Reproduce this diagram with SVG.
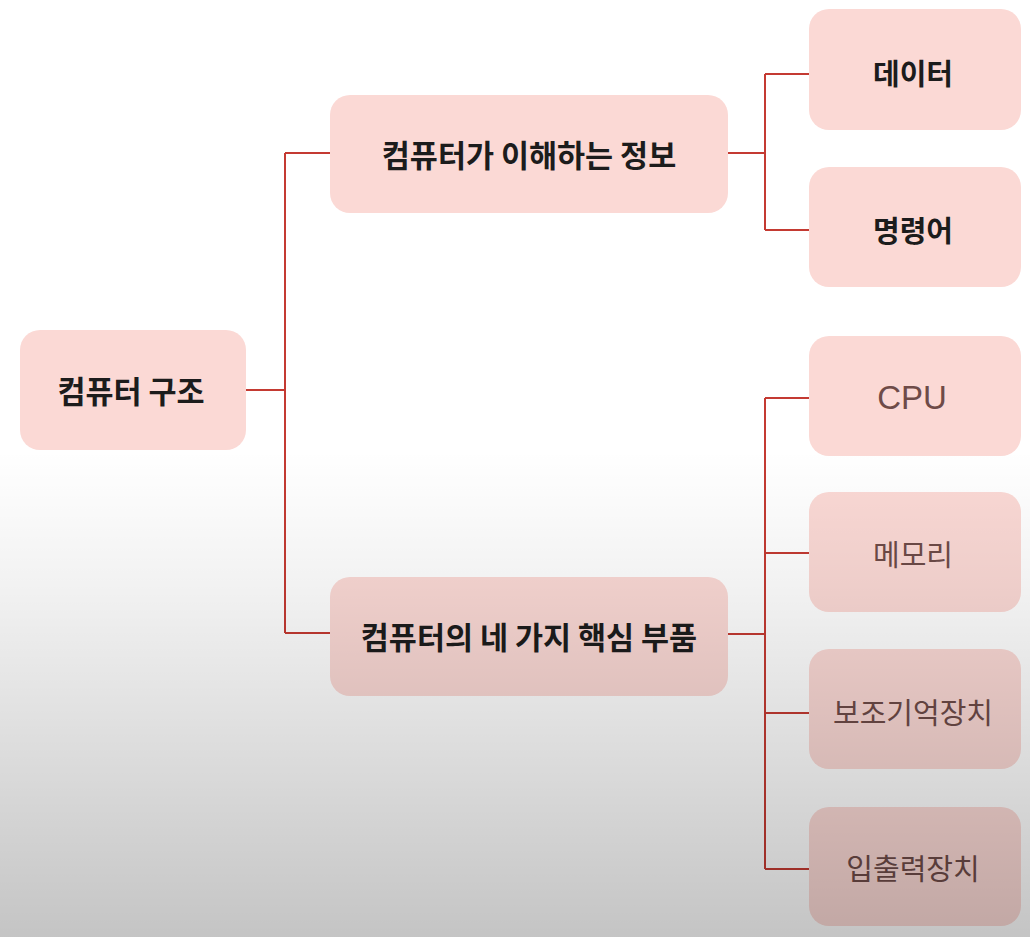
<svg xmlns="http://www.w3.org/2000/svg" width="1030" height="937" viewBox="0 0 1030 937">
  <defs>
    <linearGradient id="shade" x1="0" y1="0" x2="0" y2="937" gradientUnits="userSpaceOnUse">
      <stop offset="0" stop-color="#000" stop-opacity="0"/>
      <stop offset="0.48" stop-color="#000" stop-opacity="0"/>
      <stop offset="0.62" stop-color="#000" stop-opacity="0.05"/>
      <stop offset="1" stop-color="#000" stop-opacity="0.23"/>
    </linearGradient>
    <style>
      .box { fill: #fbd9d5; }
      .t { font-family: "Noto Sans CJK KR", "Noto Sans", sans-serif; text-anchor: middle; dominant-baseline: central; }
      .b { font-weight: 700; fill: #1c1c1c; font-size: 29px; }
      .big { font-size: 30.5px; }
      .n { font-weight: 400; fill: #6e4b48; font-size: 29px; }
      .lat { font-family: "Liberation Sans", "Noto Sans", sans-serif; font-size: 33px; }
      .c { fill: none; stroke: #c43a32; stroke-width: 2; }
    </style>
  </defs>
  <rect x="0" y="0" width="1030" height="937" fill="#ffffff"/>
  <g id="connectors">
    <path class="c" d="M246 390 H285 M285 153 V633 M285 153 H330 M285 633 H330"/>
    <path class="c" d="M728 153 H765 M765 74 V230 M765 74 H809 M765 230 H809"/>
    <path class="c" d="M728 634 H765 M765 398 V869 M765 398 H809 M765 553 H809 M765 713 H809 M765 869 H809"/>
  </g>
  <g id="node-root">
    <rect class="box" x="20" y="330" width="226" height="120" rx="20"/>
    <text class="t b big" x="131" y="390">컴퓨터 구조</text>
  </g>
  <g id="node-info">
    <rect class="box" x="330" y="95" width="398" height="118" rx="20"/>
    <text class="t b big" x="529" y="154">컴퓨터가 이해하는 정보</text>
  </g>
  <g id="node-parts">
    <rect class="box" x="330" y="577" width="398" height="119" rx="20"/>
    <text class="t b big" x="529" y="636">컴퓨터의 네 가지 핵심 부품</text>
  </g>
  <g id="node-data">
    <rect class="box" x="809" y="9" width="212" height="121" rx="20"/>
    <text class="t b" x="913" y="72">데이터</text>
  </g>
  <g id="node-instr">
    <rect class="box" x="809" y="167" width="212" height="120" rx="20"/>
    <text class="t b" x="913" y="229">명령어</text>
  </g>
  <g id="node-cpu">
    <rect class="box" x="809" y="336" width="212" height="120" rx="20"/>
    <text class="t n lat" x="912" y="397">CPU</text>
  </g>
  <g id="node-mem">
    <rect class="box" x="809" y="492" width="212" height="120" rx="20"/>
    <text class="t n" x="913" y="553">메모리</text>
  </g>
  <g id="node-storage">
    <rect class="box" x="809" y="649" width="212" height="120" rx="20"/>
    <text class="t n" x="913" y="711">보조기억장치</text>
  </g>
  <g id="node-io">
    <rect class="box" x="809" y="807" width="212" height="119" rx="20"/>
    <text class="t n" x="913" y="867">입출력장치</text>
  </g>
  <rect x="0" y="0" width="1030" height="937" fill="url(#shade)" pointer-events="none"/>
</svg>
